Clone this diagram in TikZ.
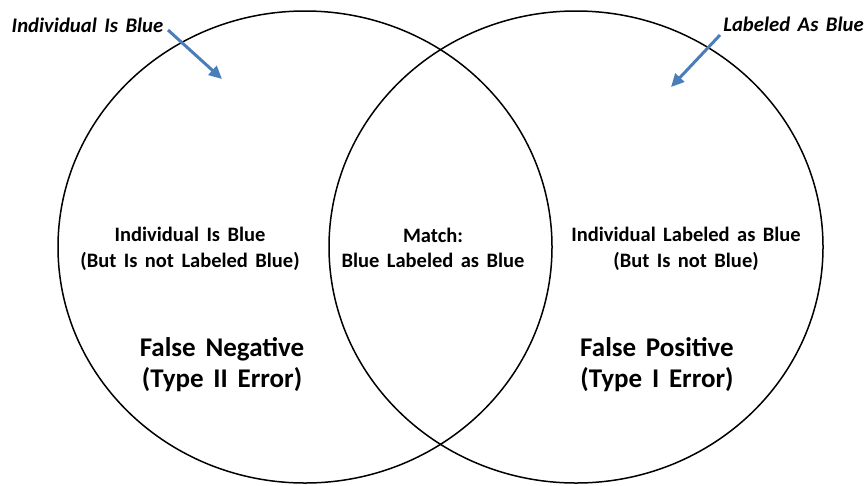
\documentclass[tikz,border=0pt]{standalone}
\usepackage{fontspec}
\setmainfont{Carlito}[WordSpace=1.6]
\usetikzlibrary{shapes.geometric,arrows.meta}
\definecolor{arrowblue}{HTML}{4A7EBB}
\tikzset{
  set/.style={draw=black, line width=1.5pt, ellipse, minimum width=494pt, minimum height=472pt, inner sep=0pt},
  body/.style={font=\bfseries\fontsize{20.5}{25.5}\selectfont, align=center, inner sep=0pt},
  err/.style={font=\bfseries\fontsize{27}{31}\selectfont, align=center, inner sep=0pt},
  tag/.style={font=\bfseries\itshape\fontsize{20.7}{24}\selectfont, inner sep=0pt},
  pointer/.style={draw=arrowblue, line width=3pt, -{Triangle[length=13pt,width=12pt]}}
}
\begin{document}
\begin{tikzpicture}[x=1pt,y=-1pt]
\useasboundingbox (0,0) rectangle (864,485);
\node[set] (L) at (305,247) {};
\node[set] (R) at (576,247) {};
\node[tag] (tl) at (87.5,25) {Individual Is Blue};
\node[tag] (tr) at (793.5,24.5) {Labeled As Blue};
\coordinate (a1s) at (168,30);
\coordinate (a1e) at (222,79);
\coordinate (a2s) at (720,35);
\coordinate (a2e) at (671,87);
\draw[pointer] (a1s) -- (a1e);
\draw[pointer] (a2s) -- (a2e);
\node[body] (lb) at (190,249) {Individual Is Blue\\(But Is not Labeled Blue)};
\node[body] (mb) at (433,248) {Match:\\Blue Labeled as Blue};
\node[body] (rb) at (686,249) {Individual Labeled as Blue\\(But Is not Blue)};
\node[err] (fn) at (222,365) {False Negative\\(Type II Error)};
\node[err] (fp) at (657,365) {False Positive\\(Type I Error)};
\end{tikzpicture}
\end{document}
